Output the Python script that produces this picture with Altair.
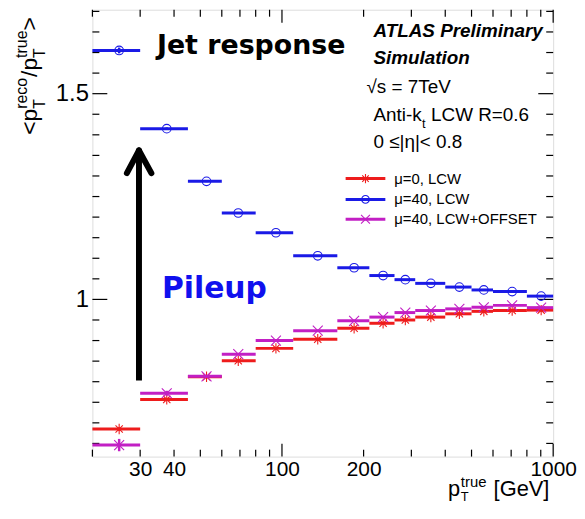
import altair as alt
import pandas as pd

# ---------------- data ----------------
pt_center = [25.1, 37.6, 52.7, 69, 95, 135.5, 184.5, 236, 285, 354, 451, 555, 706, 903]
bin_lo = [20, 30, 45, 60, 80, 110, 160, 210, 260, 310, 400, 500, 600, 800]
bin_hi = [30, 45, 60, 80, 110, 160, 210, 260, 310, 400, 500, 600, 800, 1000]

resp_mu0 = [0.685, 0.757, 0.812, 0.851, 0.881, 0.903, 0.930, 0.942, 0.950, 0.957, 0.965, 0.971, 0.973, 0.974]
resp_mu40 = [1.605, 1.415, 1.287, 1.210, 1.162, 1.106, 1.077, 1.058, 1.048, 1.039, 1.030, 1.023, 1.019, 1.008]
resp_off = [0.646, 0.772, 0.813, 0.867, 0.900, 0.924, 0.948, 0.957, 0.968, 0.973, 0.977, 0.981, 0.9855, 0.980]

err_mu0 = [0.004, 0.002, 0.001, 0.001, 0.001, 0.001, 0.001, 0.001, 0.001, 0.001, 0.001, 0.001, 0.001, 0.001]
err_mu40 = [0.007, 0.003, 0.002, 0.001, 0.001, 0.001, 0.001, 0.001, 0.001, 0.001, 0.001, 0.001, 0.001, 0.001]
err_off = [0.015, 0.006, 0.002, 0.001, 0.001, 0.001, 0.001, 0.001, 0.001, 0.001, 0.001, 0.001, 0.001, 0.001]

series_names = ["μ=0, LCW", "μ=40, LCW", "μ=40, LCW+OFFSET"]
series_colors = ["#ee1c1c", "#1a1ae6", "#c21fc4"]

y_major_ticks = [1.0, 1.5]
y_minor_ticks = [0.65, 0.70, 0.75, 0.80, 0.85, 0.90, 0.95, 1.05, 1.10, 1.15, 1.20,
                 1.25, 1.30, 1.35, 1.40, 1.45, 1.55, 1.60, 1.65, 1.70]
x_major_ticks = [100, 1000]
x_minor_ticks = [20, 30, 40, 50, 60, 70, 80, 90, 200, 300, 400, 500, 600, 700, 800, 900]
x_labels = [30, 40, 100, 200, 1000]
y_labels = [1.0, 1.5]

# arrow annotation (data space): stem + two arms of the head
arrow_x1 = [29.7, 29.7, 29.7]
arrow_y1 = [0.803, 1.362, 1.362]
arrow_x2 = [29.7, 26.8, 33.0]
arrow_y2 = [1.355, 1.307, 1.307]

# ---------------- styling ----------------
W, H = 464, 450
FONT = "Liberation Sans"
ASTERISK = "M-1,0L1,0M0,-1L0,1M-0.7,-0.7L0.7,0.7M-0.7,0.7L0.7,-0.7"
CROSS = "M-1,-1L1,1M-1,1L1,-1"
series_shapes = [ASTERISK, "circle", CROSS]
series_sizes = [110, 75, 100]

xscale = alt.Scale(type="log", domain=[20, 1000], nice=False)
yscale = alt.Scale(domain=[0.618, 1.704], nice=False, zero=False)
xaxis = alt.Axis(values=x_labels, ticks=False, tickSize=0, domain=False, grid=False,
                 labelFontSize=21, labelFont=FONT, labelColor="black", labelPadding=2,
                 labelFlush=False, title="", format="d")
yaxis = alt.Axis(values=y_labels, ticks=False, tickSize=0, domain=False, grid=False,
                 labelFontSize=24, labelFont=FONT, labelColor="black", labelPadding=4,
                 title="", labelExpr="datum.value == 1 ? '1' : format(datum.value, '.1f')")

X = lambda f: alt.X(f, scale=xscale, axis=xaxis)
Y = lambda f: alt.Y(f, scale=yscale, axis=yaxis)

dummy = alt.Data(values=[{"a": 1}])
layers = []

# ticks (inward, on all four sides)
ymaj = pd.DataFrame({"y": y_major_ticks})
ymin = pd.DataFrame({"y": y_minor_ticks})
xmaj = pd.DataFrame({"x": x_major_ticks})
xmin = pd.DataFrame({"x": x_minor_ticks})
for df, ln in [(ymaj, 15), (ymin, 7)]:
    layers.append(alt.Chart(df).mark_rule(color="black", strokeWidth=1.2).encode(
        y=Y("y:Q"), x=alt.value(0), x2=alt.value(ln)))
    layers.append(alt.Chart(df).mark_rule(color="black", strokeWidth=1.2).encode(
        y=Y("y:Q"), x=alt.value(W - ln), x2=alt.value(W)))
for df, ln in [(xmaj, 13), (xmin, 7)]:
    layers.append(alt.Chart(df).mark_rule(color="black", strokeWidth=1.2).encode(
        x=X("x:Q"), y=alt.value(H - ln), y2=alt.value(H)))
    layers.append(alt.Chart(df).mark_rule(color="black", strokeWidth=1.2).encode(
        x=X("x:Q"), y=alt.value(0), y2=alt.value(ln)))

# arrow
arrow = pd.DataFrame({"x": arrow_x1, "y": arrow_y1, "x2": arrow_x2, "y2": arrow_y2})
layers.append(alt.Chart(arrow.iloc[:1]).mark_rule(color="black", strokeWidth=6, strokeCap="butt").encode(
    x=X("x:Q"), y=Y("y:Q"), x2="x2:Q", y2="y2:Q"))
layers.append(alt.Chart(arrow.iloc[1:]).mark_rule(color="black", strokeWidth=6, strokeCap="round").encode(
    x=X("x:Q"), y=Y("y:Q"), x2="x2:Q", y2="y2:Q"))

# data series
for vals, errs, col, shp, sz in zip([resp_mu0, resp_mu40, resp_off], [err_mu0, err_mu40, err_off],
                                    series_colors, series_shapes, series_sizes):
    df = pd.DataFrame({"x": pt_center, "lo": bin_lo, "hi": bin_hi, "y": vals,
                       "ylo": [v - e for v, e in zip(vals, errs)],
                       "yhi": [v + e for v, e in zip(vals, errs)]})
    layers.append(alt.Chart(df).mark_rule(color=col, strokeWidth=3).encode(
        x=X("lo:Q"), x2="hi:Q", y=Y("y:Q")))
    layers.append(alt.Chart(df).mark_rule(color=col, strokeWidth=2.5).encode(
        x=X("x:Q"), y=Y("ylo:Q"), y2="yhi:Q"))
    layers.append(alt.Chart(df).mark_point(shape=shp, size=sz, filled=False, color=col,
                                           strokeWidth=1.1, opacity=1).encode(
        x=X("x:Q"), y=Y("y:Q")))

# legend
leg_y = [170, 191, 211]
for name, col, shp, sz, yy in zip(series_names, series_colors, series_shapes, series_sizes, leg_y):
    layers.append(alt.Chart(dummy).mark_rule(color=col, strokeWidth=3).encode(
        x=alt.value(255), x2=alt.value(295), y=alt.value(yy)))
    layers.append(alt.Chart(dummy).mark_point(shape=shp, size=sz * 0.8, filled=False, color=col,
                                              strokeWidth=1.1, opacity=1).encode(
        x=alt.value(275), y=alt.value(yy)))
    layers.append(alt.Chart(dummy).mark_text(align="left", baseline="middle", font=FONT,
                                             fontSize=15, color="black").encode(
        x=alt.value(304), y=alt.value(yy), text=alt.value(name)))


def txt(s, x, y, size, font=FONT, weight="normal", style="normal", color="black", angle=0):
    return alt.Chart(dummy).mark_text(align="left", baseline="alphabetic", font=font,
                                      fontSize=size, fontWeight=weight, fontStyle=style,
                                      color=color, angle=angle).encode(
        x=alt.value(x), y=alt.value(y), text=alt.value(s))


# top-right info block
layers += [
    txt("ATLAS Preliminary", 283, 27, 19, weight="bold", style="italic"),
    txt("Simulation", 283, 55, 19, weight="bold", style="italic"),
    txt("√s = 7TeV", 276, 84, 19),
    txt("Anti-k", 283, 112, 19),
    txt("t", 332, 119, 13),
    txt("LCW R=0.6", 341, 112, 19),
    txt("0 ≤|η|< 0.8", 283, 139, 19),
]

# big annotations
layers += [
    txt("Jet response", 65, 45, 27, font="DejaVu Sans", weight="bold"),
    txt("Pileup", 70, 290, 30, font="DejaVu Sans", weight="bold", color="#1010ee"),
]

# x-axis title  p_T^true [GeV]
layers += [
    txt("p", 358, 490, 22),
    txt("true", 371, 481, 15),
    txt("T", 371, 495, 13),
    txt("[GeV]", 404, 490, 22),
]

# y-axis title  <p_T^reco/p_T^true>  (rotated)
layers += [
    txt("<p", -55.5, 126, 23, angle=270),
    txt("reco", -65.5, 99.8, 16, angle=270),
    txt("T", -47.5, 99.8, 16, angle=270),
    txt("/p", -55.5, 67.7, 23, angle=270),
    txt("true", -65.5, 48.5, 16, angle=270),
    txt("T", -47.5, 48.5, 16, angle=270),
    txt(">", -55.5, 20.9, 23, angle=270),
]

chart = alt.layer(*layers).properties(
    width=W, height=H,
    padding={"left": 85, "top": 0, "right": 24, "bottom": 47},
    autosize=alt.AutoSizeParams(type="none"),
).configure_view(stroke="black", strokeWidth=1.5).configure(background="white")

chart.save("out.html", embed_options={"renderer": "svg", "actions": False})
